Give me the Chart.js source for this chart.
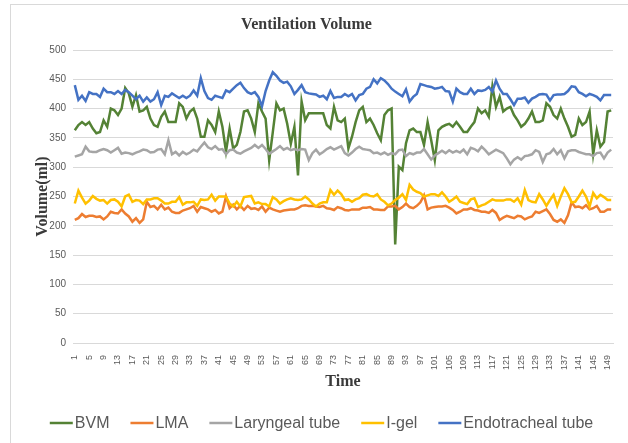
<!DOCTYPE html>
<html>
<head>
<meta charset="utf-8">
<script src="https://cdn.jsdelivr.net/npm/chart.js@4"></script>
<style>
  body { margin: 0; background: #fff; overflow: hidden; }
  canvas { display: block; }
</style>
</head>
<body>
<canvas id="ventChart" width="628" height="443"></canvas>
<script>
// time points 1..150 (category axis)
var times = Array.from({length: 150}, function (_, i) { return i + 1; });
// only every 4th label is printed on the axis
var shownTicks = [1,5,9,13,17,21,25,29,33,37,41,45,49,53,57,61,65,69,73,77,81,85,89,93,97,101,105,109,113,117,121,125,129,133,137,141,145,149];

var bvm = [363,372,377,372,377,366,358,360,380,369, 400,397,389,400,435,426,403,423,395,397,
           403,383,372,369,386,395,377,377,377,409, 403,383,395,400,383,352,352,380,372,360,
           395,369,327,366,332,338,360,395,397,383, 360,409,395,383,312,360,409,397,400,374,
           340,369,286,412,380,392,392,392,392,392, 372,366,403,380,377,383,332,352,377,397,
           403,377,383,372,358,346,389,397,400,168, 301,295,341,363,366,360,360,338,377,346,
           312,363,369,372,374,369,377,369,360,360, 369,377,400,392,397,386,438,403,420,395,
           400,403,389,380,369,374,383,395,377,377, 380,409,403,389,383,400,383,369,352,355,
           383,372,377,395,322,363,335,343,395,397];

var lma = [210,213,220,215,217,217,215,216,211,216, 224,222,221,228,221,216,207,213,205,211,
           241,232,234,228,236,228,231,224,222,222, 226,228,230,234,224,232,230,228,224,227,
           221,224,250,230,236,228,234,227,234,229, 230,227,233,224,231,228,226,224,226,227,
           228,228,230,234,235,234,234,233,232,234, 230,229,227,232,230,227,226,228,228,228,
           231,231,232,228,228,227,227,233,233,234, 228,232,238,232,230,234,240,252,228,231,
           232,233,233,234,231,227,221,224,228,228, 230,227,226,224,224,222,227,222,210,214,
           217,215,213,217,216,211,214,216,224,222, 225,228,220,210,207,211,205,218,240,232,
           233,230,235,228,230,234,224,224,228,228];

var laryngeal = [318,320,322,335,327,326,326,329,331,329, 325,329,333,323,325,324,322,325,327,330,
                 329,325,326,330,331,322,346,322,326,320, 326,322,325,330,327,335,342,334,331,336,
                 330,331,322,329,330,325,323,327,330,333, 338,333,338,331,323,327,331,336,330,333,
                 329,331,329,331,330,312,324,330,322,326, 331,334,330,333,336,324,320,325,331,335,
                 331,330,329,324,325,322,325,321,324,322, 329,330,319,324,322,325,325,331,322,313,
                 320,324,328,324,329,325,328,325,330,322, 333,331,327,335,329,322,326,330,327,324,
                 315,305,313,317,313,319,320,322,329,326, 309,322,324,331,322,329,315,327,329,329,
                 326,324,322,322,319,324,325,315,325,330];

var igel = [238,260,248,238,243,251,246,243,244,238, 244,245,241,233,250,253,241,244,243,237,
            245,245,247,247,243,238,238,241,241,249, 236,240,240,241,234,245,244,245,253,243,
            250,250,250,238,233,241,233,249,250,251, 238,240,237,237,233,249,245,238,242,245,
            247,245,244,245,250,245,238,233,238,240, 240,261,253,260,254,244,245,241,245,247,
            253,254,251,250,254,245,241,235,238,244, 248,254,244,270,262,258,256,250,252,254,
            254,251,257,250,241,245,250,241,239,237, 245,247,232,235,237,241,245,243,243,243,
            245,245,241,247,236,261,244,241,240,254, 245,234,244,253,234,250,264,254,240,241,
            250,260,250,233,256,247,253,249,244,244];

var endotracheal = [440,415,422,413,428,425,425,420,434,428, 428,425,430,425,432,428,422,416,422,412,
                    419,412,416,428,406,422,420,426,422,418, 422,418,422,431,422,452,430,418,415,422,
                    420,418,431,428,434,440,444,435,428,425, 428,420,404,430,448,462,456,448,444,446,
                    438,425,432,440,428,426,425,424,420,422, 416,430,418,420,420,425,421,425,414,423,
                    425,434,437,450,443,452,448,442,434,429, 425,421,433,412,420,425,442,440,438,437,
                    434,435,437,430,429,412,434,428,425,425, 434,425,431,430,432,437,429,448,434,425,
                    425,416,406,417,417,419,410,417,420,424, 425,424,414,423,424,424,425,430,438,437,
                    428,425,421,425,423,420,414,423,423,423];

var seriesNames = ['BVM', 'LMA', 'Laryngeal tube', 'I-gel', 'Endotracheal tube'];
var seriesColors = ['#548235', '#ED7D31', '#A5A5A5', '#FFC000', '#4472C4'];
var seriesData = [bvm, lma, laryngeal, igel, endotracheal];

var sansFont = "'Liberation Sans Narrow', 'Liberation Sans', Arial, sans-serif";
var serifFont = "'Liberation Serif', 'Times New Roman', serif";

// outer frame + legend along the bottom, drawn like the excel one
var frameAndLegend = {
    id: 'frameAndLegend',
    beforeDraw: function (chart) {
        var ctx = chart.ctx;
        ctx.save();
        ctx.strokeStyle = '#d9d9d9';
        ctx.lineWidth = 1;
        ctx.strokeRect(10.5, 4.5, 700, 500);
        ctx.restore();
    },
    afterDraw: function (chart) {
        var ctx = chart.ctx;
        var lineLen = 23, textGap = 2, itemGap = 21, y = 423;
        ctx.save();
        ctx.font = '16px ' + sansFont;
        ctx.textBaseline = 'middle';
        var total = 0;
        var widths = chart.data.datasets.map(function (ds) {
            var w = ctx.measureText(ds.label).width;
            total += lineLen + textGap + w;
            return w;
        });
        total += itemGap * (widths.length - 1);
        var x = 321.5 - total / 2;
        chart.data.datasets.forEach(function (ds, i) {
            ctx.strokeStyle = ds.borderColor;
            ctx.lineWidth = 2.5;
            ctx.beginPath();
            ctx.moveTo(x, y);
            ctx.lineTo(x + lineLen, y);
            ctx.stroke();
            ctx.fillStyle = '#595959';
            ctx.fillText(ds.label, x + lineLen + textGap, y + 1);
            x += lineLen + textGap + widths[i] + itemGap;
        });
        ctx.restore();
    }
};

var ctx = document.getElementById('ventChart').getContext('2d');
var ventChart = new Chart(ctx, {
    type: 'line',
    data: {
        labels: times,
        datasets: seriesData.map(function (values, i) {
            return {
                label: seriesNames[i],
                data: values,
                borderColor: seriesColors[i],
                backgroundColor: seriesColors[i],
                borderWidth: 2.5,
                pointRadius: 0,
                tension: 0,
                fill: false,
                order: seriesData.length - i
            };
        })
    },
    options: {
        responsive: false,
        animation: false,
        layout: { padding: { left: 0, right: 15, top: 0, bottom: 43 } },
        plugins: {
            legend: { display: false },
            tooltip: { enabled: false },
            title: {
                display: true,
                text: 'Ventilation Volume',
                color: '#3a3a3a',
                font: { family: serifFont, size: 16, weight: 'bold' },
                padding: { top: 15.5, bottom: 15.3 }
            }
        },
        scales: {
            x: {
                offset: true,
                grid: { display: false },
                border: { color: '#d9d9d9' },
                ticks: {
                    autoSkip: false,
                    minRotation: 90,
                    maxRotation: 90,
                    padding: 4,
                    color: '#595959',
                    font: { family: sansFont, size: 9 },
                    callback: function (value) {
                        var lab = this.getLabelForValue(value);
                        return shownTicks.indexOf(lab) >= 0 ? String(lab) : null;
                    }
                },
                title: {
                    display: true,
                    text: 'Time',
                    color: '#3a3a3a',
                    font: { family: serifFont, size: 16, weight: 'bold' },
                    padding: { top: 4, bottom: 8.4 }
                },
                afterFit: function (scale) { scale.height = 57; }
            },
            y: {
                min: 0,
                max: 500,
                grid: { color: '#d9d9d9', drawTicks: false },
                border: { display: false },
                ticks: {
                    stepSize: 50,
                    padding: 7,
                    color: '#595959',
                    font: { family: sansFont, size: 10 }
                },
                title: {
                    display: true,
                    text: 'Volume(ml)',
                    color: '#3a3a3a',
                    font: { family: serifFont, size: 16, weight: 'bold' },
                    padding: { top: 33, bottom: 4 }
                },
                afterFit: function (scale) { scale.width = 73; }
            }
        }
    },
    plugins: [frameAndLegend]
});
</script>
</body>
</html>
